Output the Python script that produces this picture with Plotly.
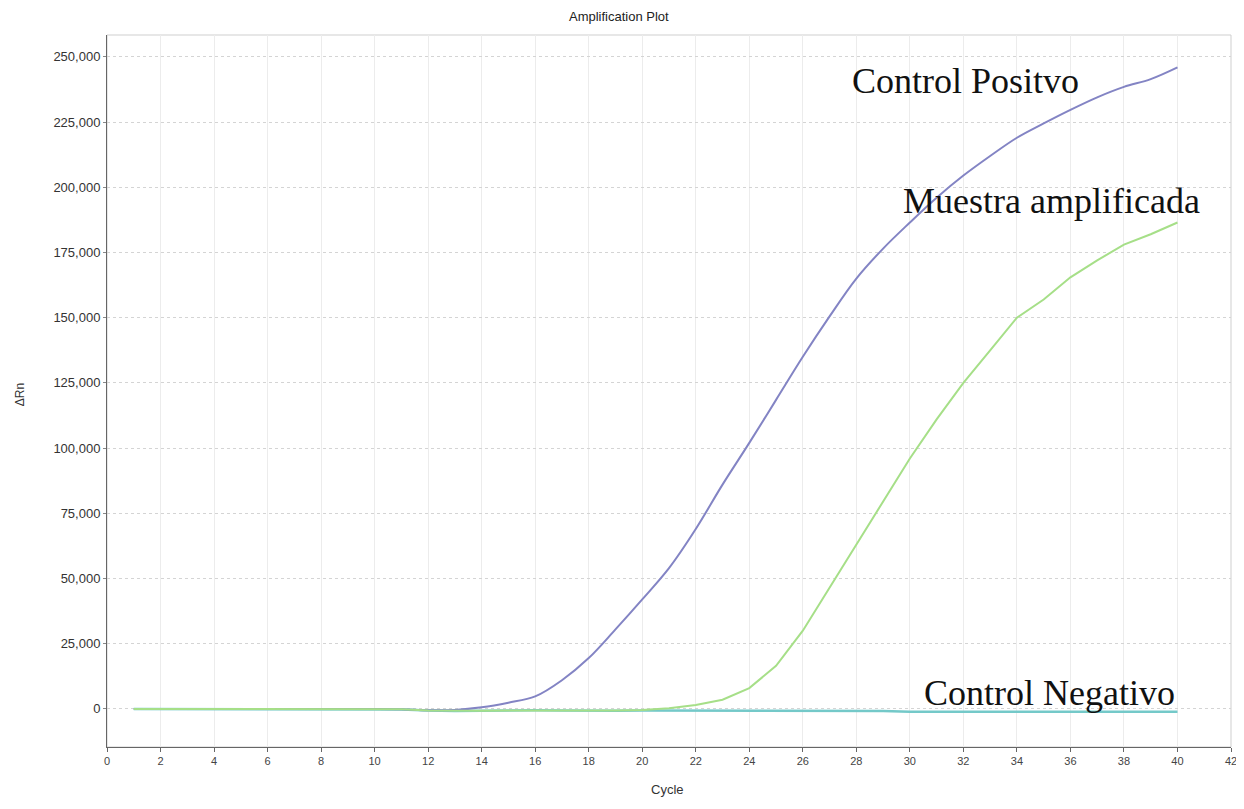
import plotly.graph_objects as go

cycles = list(range(1, 41))

control_positivo = [0, 0, 0, 0, 0, 0, 0, 0, 0, 0, -100, -500, -400, 600, 2400,
                    4800, 11000, 19500, 30500, 42000, 54000, 69000, 86000, 102000, 118500,
                    135000, 150500, 165000, 176500, 186500, 196000, 204500, 212000, 219000, 224500,
                    229700, 234500, 238500, 241500, 246000]

muestra_amplificada = [0, 0, 0, 0, 0, 0, 0, 0, 0, 0, -100, -600, -700, -700, -600,
                       -600, -700, -700, -600, -400, 300, 1500, 3500, 8000, 16500,
                       30000, 46500, 62500, 79000, 96000, 111000, 125000, 137500, 150000, 157000,
                       165500, 172000, 178000, 182000, 186500]

control_negativo = [0, 0, 0, 0, 0, 0, 0, 0, 0, 0, -200, -600, -800, -700, -500,
                    -500, -600, -700, -700, -600, -600, -600, -600, -600, -600,
                    -600, -600, -700, -800, -1100, -1100, -1100, -1100, -1100, -1100,
                    -1100, -1100, -1100, -1100, -1100]

x_ticks = list(range(0, 43, 2))
y_ticks = list(range(0, 250001, 25000))

labels = ["Control Positvo", "Muestra amplificada", "Control Negativo"]

fig = go.Figure()
fig.add_trace(go.Scatter(x=cycles, y=control_negativo, mode="lines",
                         line=dict(color="#74c9c9", width=2.5), name=labels[2]))
fig.add_trace(go.Scatter(x=cycles, y=control_positivo, mode="lines", line_shape="spline",
                         line=dict(color="#8384c4", width=2), name=labels[0]))
fig.add_trace(go.Scatter(x=cycles, y=muestra_amplificada, mode="lines",
                         line=dict(color="#a6df88", width=2), name=labels[1]))

ann_font = dict(family="Liberation Serif, Times New Roman, serif", size=36, color="#111111")
fig.add_annotation(text=labels[0], xref="paper", yref="paper", x=0.661, y=0.935,
                   xanchor="left", yanchor="middle", showarrow=False, font=ann_font)
fig.add_annotation(text=labels[1], xref="paper", yref="paper", x=0.706, y=0.767,
                   xanchor="left", yanchor="middle", showarrow=False, font=ann_font)
fig.add_annotation(text=labels[2], xref="paper", yref="paper", x=0.725, y=0.076,
                   xanchor="left", yanchor="middle", showarrow=False, font=ann_font)

# title and axis titles
fig.add_annotation(text="Amplification Plot", xref="paper", yref="paper", x=0.4555, y=1.0255,
                   xanchor="center", yanchor="middle", showarrow=False,
                   font=dict(family="Liberation Sans, Arial, sans-serif", size=13, color="#222222"))
fig.add_annotation(text="Cycle", xref="paper", yref="paper", x=0.499, y=-0.060,
                   xanchor="center", yanchor="middle", showarrow=False,
                   font=dict(family="Liberation Sans, Arial, sans-serif", size=13, color="#333333"))
fig.add_annotation(text="ΔRn", xref="paper", yref="paper", x=-0.0774, y=0.494, textangle=-90,
                   xanchor="center", yanchor="middle", showarrow=False,
                   font=dict(family="Liberation Sans, Arial, sans-serif", size=12, color="#333333"))

# the page body adds an 8px offset, so the figure is 8px smaller and margins compensate
fig.update_layout(
    width=1236, height=801,
    margin=dict(l=99, r=13, t=27, b=62, autoexpand=False),
    paper_bgcolor="white", plot_bgcolor="white",
    showlegend=False,
    font=dict(family="Liberation Sans, Arial, sans-serif", size=12, color="#333333"),
)

fig.update_xaxes(
    range=[0, 42], tickvals=x_ticks, ticktext=[str(v) for v in x_ticks],
    showgrid=True, gridcolor="#ececec", gridwidth=1,
    showline=True, linecolor="#666666", linewidth=1, mirror=False,
    ticks="outside", ticklen=4, tickcolor="#666666",
    zeroline=False, automargin=False,
    tickfont=dict(size=11, color="#444444"),
)
fig.update_yaxes(
    range=[-14600, 258400], tickvals=y_ticks, tickformat=",",
    showgrid=True, gridcolor="#d4d4d4", gridwidth=1, griddash="dot",
    showline=True, linecolor="#666666", linewidth=1, mirror=False,
    ticks="outside", ticklen=3, tickcolor="#888888",
    zeroline=False, automargin=False,
    tickfont=dict(size=13, color="#333333"),
)

# light frame on top and right
fig.add_shape(type="rect", xref="paper", yref="paper", x0=0, y0=0, x1=1, y1=1,
              line=dict(color="#cfcfcf", width=1), layer="below")

fig.write_html("out.html")
